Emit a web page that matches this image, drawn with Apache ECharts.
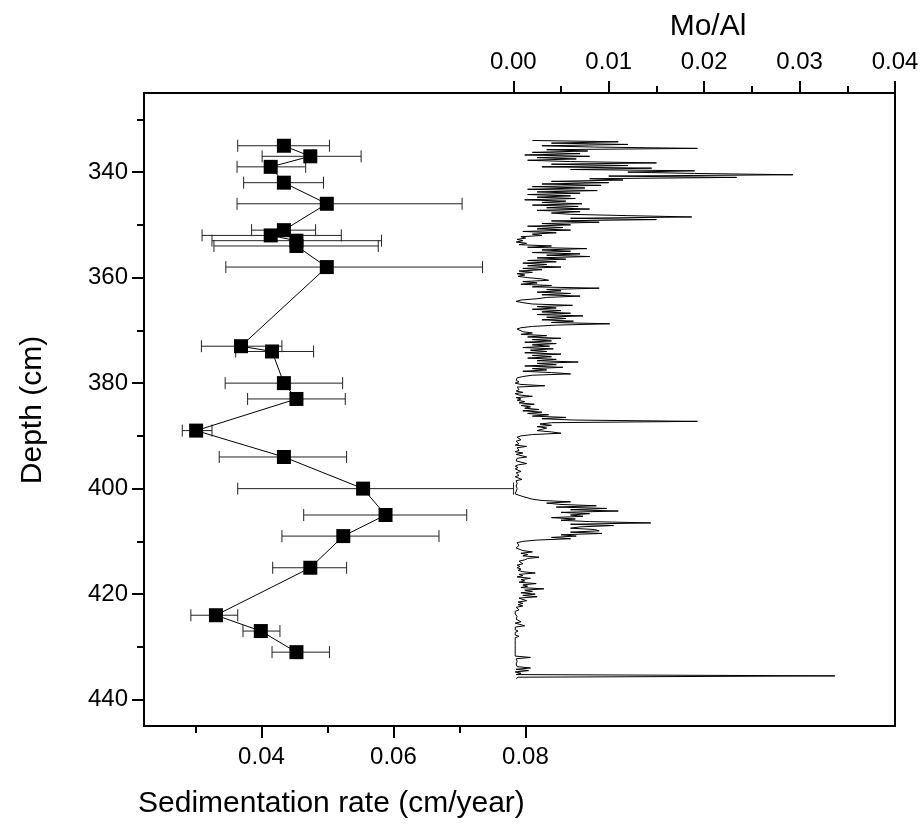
<!DOCTYPE html>
<html><head><meta charset="utf-8">
<script src="https://cdn.jsdelivr.net/npm/echarts@6/dist/echarts.min.js"></script>
<style>html,body{margin:0;padding:0;background:#fff}#c{width:924px;height:825px}</style>
</head><body><div id="c"></div>
<script>
// Sedimentation rate (bottom axis) vs depth
const sedDepth = [335,337,339,342,346,351,352,353,354,358,373,374,380,383,389,394,400,405,409,415,424,427,431];
const sedRate  = [0.0434,0.0474,0.0414,0.0434,0.0499,0.0434,0.0414,0.0453,0.0453,0.0499,0.0369,0.0416,0.0434,0.0453,0.0301,0.0434,0.0554,0.0588,0.0524,0.0474,0.0331,0.0399,0.0453];
const sedLow   = [0.0364,0.0401,0.0363,0.0373,0.0363,0.0385,0.0310,0.0325,0.0328,0.0346,0.0309,0.0361,0.0345,0.0379,0.0280,0.0336,0.0364,0.0464,0.0431,0.0417,0.0293,0.0372,0.0416];
const sedHigh  = [0.0503,0.0551,0.0467,0.0494,0.0704,0.0482,0.0521,0.0582,0.0577,0.0735,0.0431,0.0479,0.0523,0.0527,0.0325,0.0529,0.0782,0.0711,0.0669,0.0529,0.0364,0.0428,0.0503];

// Mo/Al (top axis) vs depth
const moAlDepth = [
334,334.25,334.5,334.75,335,335.25,335.5,335.75,
336,336.25,336.5,336.75,337,337.25,337.5,337.75,
338,338.25,338.5,338.75,339,339.25,339.5,339.75,
340,340.25,340.5,340.75,341,341.25,341.5,341.75,
342,342.25,342.5,342.75,343,343.25,343.5,343.75,
344,344.25,344.5,344.75,345,345.25,345.5,345.75,
346,346.25,346.5,346.75,347,347.25,347.5,347.75,
348,348.25,348.5,348.75,349,349.25,349.5,349.75,
350,350.25,350.5,350.75,351,351.25,351.5,351.75,
352,352.25,352.5,352.75,353,353.25,353.5,353.75,
354,354.25,354.5,354.75,355,355.25,355.5,355.75,
356,356.25,356.5,356.75,357,357.25,357.5,357.75,
358,358.25,358.5,358.75,359,359.25,359.5,359.75,
360,360.25,360.5,360.75,361,361.25,361.5,361.75,
362,362.25,362.5,362.75,363,363.25,363.5,363.75,
364,364.25,364.5,364.75,365,365.25,365.5,365.75,
366,366.25,366.5,366.75,367,367.25,367.5,367.75,
368,368.25,368.5,368.75,369,369.25,369.5,369.75,
370,370.25,370.5,370.75,371,371.25,371.5,371.75,
372,372.25,372.5,372.75,373,373.25,373.5,373.75,
374,374.25,374.5,374.75,375,375.25,375.5,375.75,
376,376.25,376.5,376.75,377,377.25,377.5,377.75,
378,378.25,378.5,378.75,379,379.25,379.5,379.75,
380,380.25,380.5,380.75,381,381.25,381.5,381.75,
382,382.25,382.5,382.75,383,383.25,383.5,383.75,
384,384.25,384.5,384.75,385,385.25,385.5,385.75,
386,386.25,386.5,386.75,387,387.25,387.5,387.75,
388,388.25,388.5,388.75,389,389.25,389.5,389.75,
390,390.25,390.5,390.75,391,391.25,391.5,391.75,
392,392.25,392.5,392.75,393,393.25,393.5,393.75,
394,394.25,394.5,394.75,395,395.25,395.5,395.75,
396,396.25,396.5,396.75,397,397.25,397.5,397.75,
398,398.25,398.5,398.75,399,399.25,399.5,399.75,
400,400.25,400.5,400.75,401,401.25,401.5,401.75,
402,402.25,402.5,402.75,403,403.25,403.5,403.75,
404,404.25,404.5,404.75,405,405.25,405.5,405.75,
406,406.25,406.5,406.75,407,407.25,407.5,407.75,
408,408.25,408.5,408.75,409,409.25,409.5,409.75,
410,410.25,410.5,410.75,411,411.25,411.5,411.75,
412,412.25,412.5,412.75,413,413.25,413.5,413.75,
414,414.25,414.5,414.75,415,415.25,415.5,415.75,
416,416.25,416.5,416.75,417,417.25,417.5,417.75,
418,418.25,418.5,418.75,419,419.25,419.5,419.75,
420,420.25,420.5,420.75,421,421.25,421.5,421.75,
422,422.25,422.5,422.75,423,423.25,423.5,423.75,
424,424.25,424.5,424.75,425,425.25,425.5,425.75,
426,426.25,426.5,426.75,427,427.25,427.5,427.75,
428,428.25,428.5,428.75,429,429.25,429.5,429.75,
430,430.25,430.5,430.75,431,431.25,431.5,431.75,
432,432.25,432.5,432.75,433,433.25,433.5,433.75,
434,434.25,434.5,434.75,435,435.25,435.5,435.75,
436];
const moAlValue = [
0.0020,0.0110,0.0040,0.0120,0.0030,0.0085,0.0193,0.0035,
0.0078,0.0020,0.0070,0.0012,0.0080,0.0025,0.0066,0.0015,
0.0060,0.0150,0.0040,0.0120,0.0030,0.0145,0.0060,0.0190,
0.0120,0.0190,0.0293,0.0100,0.0234,0.0080,0.0115,0.0040,
0.0100,0.0030,0.0092,0.0020,0.0075,0.0015,0.0088,0.0025,
0.0070,0.0015,0.0060,0.0025,0.0065,0.0012,0.0055,0.0030,
0.0072,0.0020,0.0068,0.0035,0.0080,0.0025,0.0070,0.0040,
0.0060,0.0120,0.0187,0.0060,0.0150,0.0040,0.0090,0.0030,
0.0060,0.0015,0.0052,0.0025,0.0060,0.0010,0.0045,0.0020,
0.0030,0.0008,0.0013,0.0004,0.0010,0.0003,0.0014,0.0006,
0.0040,0.0015,0.0077,0.0030,0.0060,0.0020,0.0070,0.0035,
0.0080,0.0025,0.0055,0.0015,0.0045,0.0010,0.0035,0.0015,
0.0050,0.0010,0.0030,0.0006,0.0020,0.0004,0.0012,0.0005,
0.0015,0.0030,0.0037,0.0010,0.0025,0.0008,0.0040,0.0020,
0.0090,0.0035,0.0050,0.0025,0.0060,0.0030,0.0070,0.0035,
0.0025,0.0008,0.0003,0.0010,0.0020,0.0062,0.0025,0.0045,
0.0020,0.0050,0.0030,0.0060,0.0025,0.0073,0.0035,0.0055,
0.0030,0.0063,0.0040,0.0101,0.0045,0.0020,0.0008,0.0004,
0.0003,0.0010,0.0020,0.0008,0.0035,0.0015,0.0050,0.0020,
0.0040,0.0012,0.0045,0.0020,0.0038,0.0010,0.0042,0.0018,
0.0035,0.0012,0.0050,0.0020,0.0040,0.0015,0.0045,0.0025,
0.0068,0.0025,0.0045,0.0012,0.0052,0.0020,0.0035,0.0010,
0.0040,0.0060,0.0020,0.0010,0.0004,0.0002,0.0003,0.0006,
0.0002,0.0008,0.0033,0.0004,0.0002,0.0006,0.0003,0.0010,
0.0002,0.0006,0.0020,0.0003,0.0008,0.0004,0.0012,0.0006,
0.0022,0.0008,0.0018,0.0012,0.0027,0.0010,0.0030,0.0015,
0.0037,0.0020,0.0055,0.0030,0.0064,0.0193,0.0040,0.0028,
0.0040,0.0025,0.0035,0.0030,0.0025,0.0040,0.0050,0.0020,
0.0008,0.0004,0.0002,0.0008,0.0003,0.0002,0.0006,0.0002,
0.0014,0.0004,0.0002,0.0006,0.0002,0.0010,0.0003,0.0002,
0.0014,0.0004,0.0002,0.0003,0.0002,0.0014,0.0005,0.0002,
0.0005,0.0002,0.0004,0.0008,0.0003,0.0002,0.0006,0.0002,
0.0002,0.0009,0.0003,0.0002,0.0004,0.0002,0.0003,0.0002,
0.0004,0.0002,0.0003,0.0005,0.0002,0.0006,0.0010,0.0008,
0.0020,0.0030,0.0060,0.0035,0.0050,0.0087,0.0045,0.0098,
0.0060,0.0110,0.0050,0.0080,0.0060,0.0073,0.0040,0.0065,
0.0050,0.0080,0.0144,0.0060,0.0105,0.0070,0.0060,0.0085,
0.0090,0.0060,0.0093,0.0050,0.0066,0.0040,0.0060,0.0025,
0.0010,0.0004,0.0002,0.0006,0.0008,0.0003,0.0004,0.0010,
0.0020,0.0008,0.0015,0.0010,0.0027,0.0015,0.0012,0.0006,
0.0006,0.0010,0.0004,0.0007,0.0004,0.0008,0.0005,0.0010,
0.0023,0.0006,0.0010,0.0004,0.0018,0.0008,0.0012,0.0006,
0.0024,0.0010,0.0015,0.0008,0.0032,0.0012,0.0020,0.0008,
0.0023,0.0010,0.0025,0.0006,0.0008,0.0014,0.0005,0.0010,
0.0005,0.0010,0.0003,0.0002,0.0006,0.0002,0.0004,0.0002,
0.0002,0.0004,0.0002,0.0003,0.0002,0.0008,0.0002,0.0003,
0.0012,0.0002,0.0004,0.0002,0.0005,0.0002,0.0003,0.0002,
0.0006,0.0002,0.0003,0.0002,0.0003,0.0002,0.0004,0.0002,
0.0004,0.0002,0.0003,0.0002,0.0003,0.0002,0.0004,0.0002,
0.0018,0.0003,0.0002,0.0004,0.0002,0.0003,0.0002,0.0004,
0.0018,0.0003,0.0016,0.0002,0.0008,0.0003,0.0337,0.0005,
0.0003];

// Tick values
const depthTicks = [340,360,380,400,420,440];
const depthMinorTicks = [330,350,370,390,410,430];
const rateTicks = [0.04,0.06,0.08];
const rateMinorTicks = [0.03,0.05,0.07];
const moAlTicks = [0,0.01,0.02,0.03,0.04];
const moAlMinorTicks = [0.005,0.015,0.025,0.035];

const FONT = 'Liberation Sans, Arial, Helvetica, sans-serif';
const chart = echarts.init(document.getElementById('c'), null, {renderer:'canvas'});

const RATE_MIN = 0.0222, RATE_MAX = 0.136;
const MO_MIN = -0.0387, MO_MAX = 0.04;
const D_MIN = 325, D_MAX = 445;

function xAx(pos, min, max, ticks, len, labels, fmt) {
  return {
    type:'value', position:pos, min:min, max:max, gridIndex:0,
    axisLine:{show:false, onZero:false}, splitLine:{show:false},
    axisTick:{show:true, inside:false, length:len, customValues:ticks, lineStyle:{color:'#000', width:2}},
    axisLabel:labels ? {show:true, customValues:ticks, formatter:fmt, color:'#000', fontSize:24, fontFamily:FONT, margin:19} : {show:false}
  };
}
function yAx(ticks, len, labels) {
  return {
    type:'value', position:'left', inverse:true, min:D_MIN, max:D_MAX, gridIndex:0,
    axisLine:{show:false, onZero:false}, splitLine:{show:false},
    axisTick:{show:true, inside:false, length:len, customValues:ticks, lineStyle:{color:'#000', width:2}},
    axisLabel:labels ? {show:true, customValues:ticks, formatter:v=>String(Math.round(v)), color:'#000', fontSize:24, fontFamily:FONT, margin:16} : {show:false}
  };
}

const errData = sedDepth.map((d,i)=>[sedLow[i], sedHigh[i], d]);
const sedData = sedDepth.map((d,i)=>[sedRate[i], d]);
const moData = moAlDepth.map((d,i)=>[moAlValue[i], d]);

chart.setOption({
  animation:false,
  backgroundColor:'#fff',
  grid:{left:144, top:93, width:751, height:633, show:true, borderColor:'#000', borderWidth:2, backgroundColor:'transparent', outerBoundsMode:'none'},
  xAxis:[
    xAx('bottom', RATE_MIN, RATE_MAX, rateTicks, 12, true, v=>v.toFixed(2)),
    xAx('top', MO_MIN, MO_MAX, moAlTicks, 12, true, v=>v.toFixed(2)),
    xAx('bottom', RATE_MIN, RATE_MAX, rateMinorTicks, 7, false),
    xAx('top', MO_MIN, MO_MAX, moAlMinorTicks, 7, false)
  ],
  yAxis:[ yAx(depthTicks, 12, true), yAx(depthMinorTicks, 7, false) ],
  graphic:[
    {type:'text', x:708, y:27, style:{text:'Mo/Al', font:'30px ' + FONT, fill:'#000', textAlign:'center', textVerticalAlign:'middle'}},
    {type:'text', x:138, y:804, style:{text:'Sedimentation rate (cm/year)', font:'30px ' + FONT, fill:'#000', textAlign:'left', textVerticalAlign:'middle'}},
    {type:'text', x:33, y:410, rotation:Math.PI/2, style:{text:'Depth (cm)', font:'30px ' + FONT, fill:'#000', textAlign:'center', textVerticalAlign:'middle'}}
  ],
  series:[
    {
      type:'custom', xAxisIndex:0, yAxisIndex:0, data:errData, encode:{x:[0,1], y:2}, z:1,
      renderItem:function(params, api){
        const p1 = api.coord([api.value(0), api.value(2)]);
        const p2 = api.coord([api.value(1), api.value(2)]);
        const y = p1[1], h = 6;
        const st = {stroke:'#222', lineWidth:1};
        return {type:'group', children:[
          {type:'line', shape:{x1:p1[0], y1:y, x2:p2[0], y2:y}, style:st},
          {type:'line', shape:{x1:p1[0], y1:y-h, x2:p1[0], y2:y+h}, style:st},
          {type:'line', shape:{x1:p2[0], y1:y-h, x2:p2[0], y2:y+h}, style:st}
        ]};
      }
    },
    {
      type:'line', xAxisIndex:0, yAxisIndex:0, data:sedData, z:3,
      symbol:'rect', symbolSize:14, showSymbol:true,
      itemStyle:{color:'#000'}, lineStyle:{color:'#000', width:1}
    },
    {
      type:'line', xAxisIndex:1, yAxisIndex:0, data:moData, z:2,
      showSymbol:false, symbol:'none', lineStyle:{color:'#000', width:1}
    }
  ]
});
</script></body></html>
